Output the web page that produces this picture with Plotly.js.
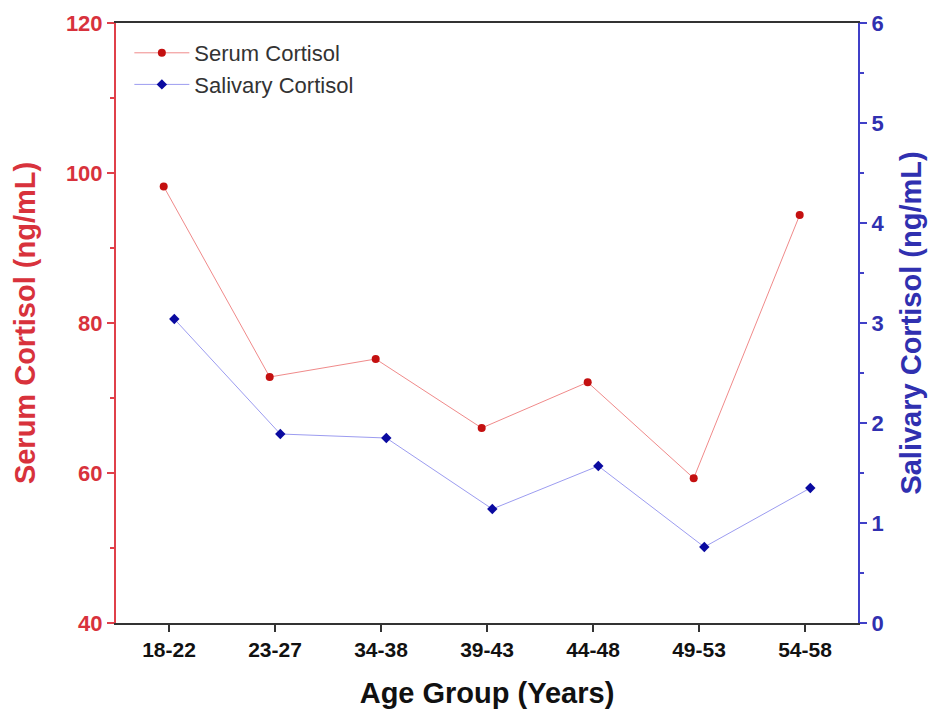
<!DOCTYPE html>
<html>
<head>
<meta charset="utf-8">
<script src="https://cdn.plot.ly/plotly-3.0.1.min.js"></script>
<style>html,body{margin:0;padding:0;background:#fff;}#chart{width:934px;height:724px;}</style>
</head>
<body>
<div id="chart"></div>
<script>
const ageGroups = ["18-22", "23-27", "34-38", "39-43", "44-48", "49-53", "54-58"];
const serumCortisol = [98.2, 72.8, 75.2, 66.0, 72.1, 59.3, 94.4];
const salivaryCortisol = [3.04, 1.89, 1.85, 1.14, 1.57, 0.76, 1.35];

const RED = '#d8323c', BLUE = '#3030b0';
const FONT = 'Liberation Sans, Arial, sans-serif';

const traces = [
  {
    x: ageGroups, y: serumCortisol, name: 'Serum Cortisol', type: 'scatter', mode: 'lines+markers',
    line: {color: '#f08a8a', width: 1}, marker: {color: '#c41010', size: 8, symbol: 'circle'},
    xaxis: 'x', yaxis: 'y', alignmentgroup: 'a', offsetgroup: 's1'
  },
  {
    x: ageGroups, y: salivaryCortisol, name: 'Salivary Cortisol', type: 'scatter', mode: 'lines+markers',
    line: {color: '#9c9cf0', width: 1}, marker: {color: '#0a0aa0', size: 8, symbol: 'diamond'},
    xaxis: 'x', yaxis: 'y2', alignmentgroup: 'a', offsetgroup: 's2'
  }
];

const layout = {
  width: 934, height: 724,
  margin: {l: 116, r: 76, t: 23, b: 101},
  paper_bgcolor: '#fff', plot_bgcolor: '#fff',
  font: {family: FONT},
  showlegend: true,
  scattermode: 'group', scattergap: 0.8,
  legend: {
    x: 0.018, y: 0.985, xanchor: 'left', yanchor: 'top',
    bgcolor: 'rgba(0,0,0,0)', font: {size: 22, color: '#333', family: FONT},
    itemwidth: 55, tracegroupgap: 6
  },
  xaxis: {
    type: 'category', range: [-0.5, 6.5],
    showline: true, linecolor: '#333', linewidth: 2, mirror: true,
    showgrid: false, zeroline: false,
    ticks: 'outside', ticklen: 7, tickwidth: 2, tickcolor: '#333',
    tickfont: {size: 21, color: '#111', family: FONT, weight: 'bold'},
    title: {text: 'Age Group (Years)', font: {size: 29, color: '#111', family: FONT, weight: 'bold'}, standoff: 22}
  },
  xaxis2: {
    overlaying: 'x', range: [-0.5, 6.5], type: 'linear', side: 'bottom',
    tick0: 0.5, dtick: 1, ticks: 'outside', ticklen: 4, tickwidth: 1.5, tickcolor: '#333',
    showticklabels: false, showline: false, showgrid: false, zeroline: false, fixedrange: true
  },
  yaxis: {
    range: [40, 120], tick0: 40, dtick: 20,
    showline: true, linecolor: '#e0404a', linewidth: 2,
    showgrid: false, zeroline: false,
    ticks: 'outside', ticklen: 7, tickwidth: 2, tickcolor: '#e0404a',
    minor: {dtick: 10, ticks: 'outside', ticklen: 4, tickcolor: '#e0404a', tickwidth: 1.5},
    tickfont: {size: 22, color: RED, family: FONT, weight: 'bold'},
    title: {text: 'Serum Cortisol (ng/mL)', font: {size: 29, color: RED, family: FONT, weight: 'bold'}, standoff: 22}
  },
  yaxis2: {
    overlaying: 'y', side: 'right', range: [0, 6], tick0: 0, dtick: 1,
    showline: true, linecolor: '#4040c8', linewidth: 2,
    showgrid: false, zeroline: false,
    ticks: 'outside', ticklen: 7, tickwidth: 2, tickcolor: '#4040c8',
    minor: {dtick: 0.5, ticks: 'outside', ticklen: 4, tickcolor: '#4040c8', tickwidth: 1.5},
    tickfont: {size: 22, color: BLUE, family: FONT, weight: 'bold'},
    title: {text: 'Salivary Cortisol (ng/mL)', font: {size: 29, color: BLUE, family: FONT, weight: 'bold'}, standoff: 17}
  }
};

Plotly.newPlot('chart', traces, layout, {displayModeBar: false, staticPlot: true});
</script>
</body>
</html>
